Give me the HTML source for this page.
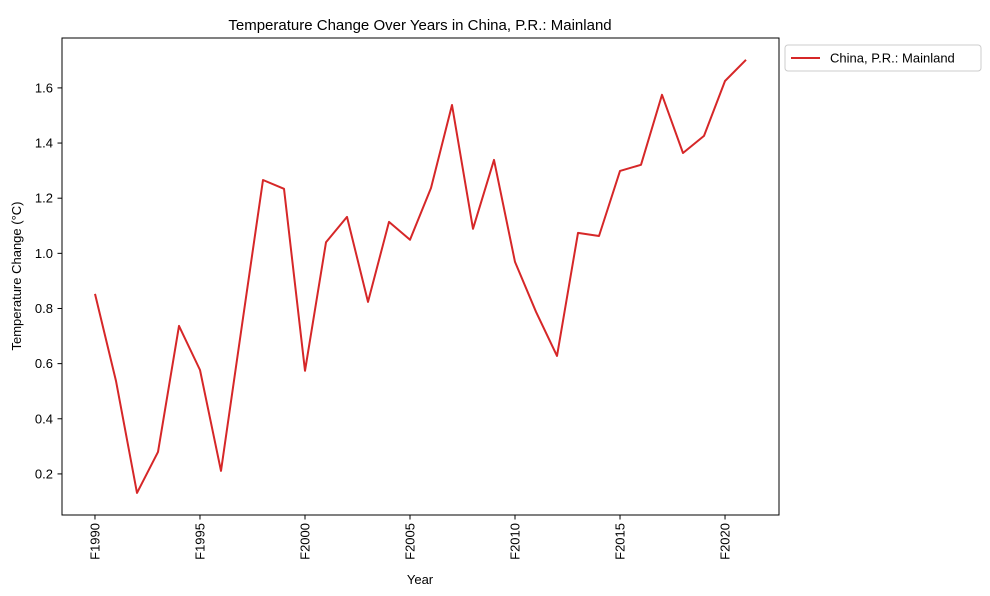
<!DOCTYPE html>
<html><head><meta charset="utf-8"><style>
body{margin:0;background:#fff;}
svg{font-family:"Liberation Sans","DejaVu Sans",sans-serif;}
</style></head><body>
<svg id="chart" width="990" height="591">
<rect width="990" height="591" fill="#fff"/>
<text x="420" y="30" font-size="15" text-anchor="middle">Temperature Change Over Years in China, P.R.: Mainland</text>
<g id="axes"></g>
<rect x="62" y="38" width="717" height="477" fill="none" stroke="#000" stroke-width="1"/>
<text x="420" y="584" font-size="13" text-anchor="middle">Year</text>
<text transform="translate(21,276) rotate(-90)" font-size="13" text-anchor="middle">Temperature Change (°C)</text>
<g>
<rect x="785" y="45" width="196" height="26" fill="#fff" stroke="#ccc" rx="3"/>
<line x1="791" y1="58" x2="820" y2="58" stroke="#d62728" stroke-width="2"/>
<text x="830" y="62.5" font-size="13">China, P.R.: Mainland</text>
</g>
</svg>
<script>
const years=[1990,1991,1992,1993,1994,1995,1996,1997,1998,1999,2000,2001,2002,2003,2004,2005,2006,2007,2008,2009,2010,2011,2012,2013,2014,2015,2016,2017,2018,2019,2020,2021];
const values=[0.853,0.537,0.131,0.28,0.737,0.577,0.211,0.74,1.266,1.234,0.574,1.04,1.132,0.824,1.114,1.049,1.237,1.538,1.089,1.339,0.969,0.788,0.628,1.074,1.063,1.299,1.321,1.575,1.364,1.426,1.625,1.702];
const xTicks=[1990,1995,2000,2005,2010,2015,2020];
const xTickLabels=["F1990","F1995","F2000","F2005","F2010","F2015","F2020"];
const yTicks=[0.2,0.4,0.6,0.8,1.0,1.2,1.4,1.6];
const yTickLabels=["0.2","0.4","0.6","0.8","1.0","1.2","1.4","1.6"];
const NS="http://www.w3.org/2000/svg";
const x0=62,x1=779,y0=515,y1=38;
const xMin=1988.43,xMax=2022.57,yMin=0.051,yMax=1.781;
const sx=v=>x0+(v-xMin)/(xMax-xMin)*(x1-x0);
const sy=v=>y0-(v-yMin)/(yMax-yMin)*(y0-y1);
const g=document.getElementById('axes');
function mk(t,a){const e=document.createElementNS(NS,t);for(const k in a)e.setAttribute(k,a[k]);return e;}
xTicks.forEach((t,i)=>{
 const x=sx(t);
 const l=mk('line',{x1:x,y1:515,x2:x,y2:519.5,stroke:'#000'});
 
 
 g.appendChild(l);
 const tx=mk('text',{transform:`translate(${x+4.5},523) rotate(-90)`,'font-size':13,'text-anchor':'end'});
 tx.textContent=xTickLabels[i];
 
 
 g.appendChild(tx);
});
yTicks.forEach((t,i)=>{
 const y=sy(t);
 const l=mk('line',{x1:57.5,y1:y,x2:62,y2:y,stroke:'#000'});
 
 
 g.appendChild(l);
 const tx=mk('text',{x:53,y:y+4.5,'font-size':13,'text-anchor':'end'});
 tx.textContent=yTickLabels[i];
 
 
 g.appendChild(tx);
});
const pts=years.map((yr,i)=>sx(yr).toFixed(1)+','+sy(values[i]).toFixed(1)).join(' ');
const pl=mk('polyline',{points:pts,fill:'none',stroke:'#d62728','stroke-width':2,'stroke-linejoin':'round'});


g.appendChild(pl);
</script>
</body></html>
